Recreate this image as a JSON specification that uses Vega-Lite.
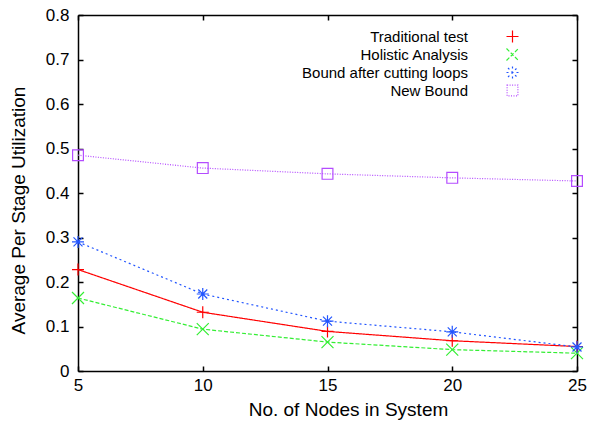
{
  "$schema": "https://vega.github.io/schema/vega-lite/v6.json",
  "width": 499,
  "height": 356,
  "autosize": {"type": "none"},
  "padding": {"left": 78, "top": 15, "right": 13, "bottom": 50},
  "background": "white",
  "config": {
    "view": {"stroke": null},
    "font": "Liberation Sans",
    "axis": {
      "grid": false,
      "domainColor": "black",
      "domainWidth": 1.5,
      "tickColor": "black",
      "tickWidth": 1.5,
      "tickSize": -5,
      "labelFlush": false,
      "labelFont": "Liberation Sans",
      "labelFontSize": 17,
      "labelColor": "black",
      "titleFont": "Liberation Sans",
      "titleFontSize": 19,
      "titleFontWeight": "normal",
      "titleColor": "black"
    },
    "legend": {
      "title": null, "orient": "none", "legendX": 427, "legendY": 14,
      "labelAlign": "right", "labelOffset": -52, "labelFontSize": 15,
      "labelFont": "Liberation Sans", "labelColor": "black", "labelLimit": 400,
      "rowPadding": 1, "symbolStrokeWidth": 1.2, "symbolSize": 144,
      "symbolFillColor": "transparent"
    }
  },
  "data": {
    "values": [
      {"x": 5, "y": 0.228, "series": "Traditional test"},
      {"x": 10, "y": 0.132, "series": "Traditional test"},
      {"x": 15, "y": 0.089, "series": "Traditional test"},
      {"x": 20, "y": 0.068, "series": "Traditional test"},
      {"x": 25, "y": 0.055, "series": "Traditional test"},
      {"x": 5, "y": 0.164, "series": "Holistic Analysis"},
      {"x": 10, "y": 0.094, "series": "Holistic Analysis"},
      {"x": 15, "y": 0.065, "series": "Holistic Analysis"},
      {"x": 20, "y": 0.048, "series": "Holistic Analysis"},
      {"x": 25, "y": 0.040, "series": "Holistic Analysis"},
      {"x": 5, "y": 0.290, "series": "Bound after cutting loops"},
      {"x": 10, "y": 0.173, "series": "Bound after cutting loops"},
      {"x": 15, "y": 0.112, "series": "Bound after cutting loops"},
      {"x": 20, "y": 0.088, "series": "Bound after cutting loops"},
      {"x": 25, "y": 0.054, "series": "Bound after cutting loops"},
      {"x": 5, "y": 0.485, "series": "New Bound"},
      {"x": 10, "y": 0.456, "series": "New Bound"},
      {"x": 15, "y": 0.443, "series": "New Bound"},
      {"x": 20, "y": 0.434, "series": "New Bound"},
      {"x": 25, "y": 0.427, "series": "New Bound"}
    ]
  },
  "layer": [
    {
      "mark": {"type": "line", "strokeWidth": 1.2},
      "encoding": {
        "x": {
          "field": "x", "type": "quantitative",
          "scale": {"domain": [5, 25], "nice": false, "zero": false},
          "axis": {
            "orient": "bottom",
            "values": [5, 10, 15, 20, 25],
            "labelPadding": 11,
            "title": "No. of Nodes in System",
            "titleX": 270,
            "titleY": 44,
            "titleAlign": "center",
            "titleBaseline": "alphabetic"
          }
        },
        "y": {
          "field": "y", "type": "quantitative",
          "scale": {"domain": [0, 0.8], "nice": false},
          "axis": {
            "orient": "left",
            "values": [0, 0.1, 0.2, 0.3, 0.4, 0.5, 0.6, 0.7, 0.8],
            "labelExpr": "datum.value == 0 ? '0' : format(datum.value, '.1f')",
            "labelPadding": 14,
            "title": "Average Per Stage Utilization",
            "titleX": -60,
            "titleY": 195,
            "titleAngle": -90,
            "titleAlign": "center",
            "titleBaseline": "middle"
          }
        },
        "color": {
          "field": "series", "type": "nominal",
          "scale": {
            "domain": ["Traditional test", "Holistic Analysis", "Bound after cutting loops", "New Bound"],
            "range": ["#ff0000", "#33ee33", "#2255ff", "#b44cff"]
          }
        },
        "strokeDash": {
          "field": "series", "type": "nominal",
          "scale": {
            "domain": ["Traditional test", "Holistic Analysis", "Bound after cutting loops", "New Bound"],
            "range": [[1, 0], [4, 2], [2, 3], [1, 1.5]]
          }
        }
      }
    },
    {
      "mark": {"type": "point", "filled": false, "size": 144, "strokeWidth": 1.2, "opacity": 1},
      "encoding": {
        "x": {
          "field": "x", "type": "quantitative",
          "scale": {"domain": [5, 25], "nice": false, "zero": false},
          "axis": {"orient": "top", "values": [5, 10, 15, 20, 25], "labels": false, "title": null}
        },
        "y": {
          "field": "y", "type": "quantitative",
          "scale": {"domain": [0, 0.8], "nice": false},
          "axis": {"orient": "right", "values": [0, 0.1, 0.2, 0.3, 0.4, 0.5, 0.6, 0.7, 0.8], "labels": false, "title": null}
        },
        "color": {
          "field": "series", "type": "nominal",
          "scale": {
            "domain": ["Traditional test", "Holistic Analysis", "Bound after cutting loops", "New Bound"],
            "range": ["#ff0000", "#33ee33", "#2255ff", "#b44cff"]
          }
        },
        "shape": {
          "field": "series", "type": "nominal",
          "scale": {
            "domain": ["Traditional test", "Holistic Analysis", "Bound after cutting loops", "New Bound"],
            "range": ["M-1,0H1M0,-1V1", "M-1,-1L1,1M-1,1L1,-1", "M-1,0H1M0,-1V1M-0.75,-0.75L0.75,0.75M-0.75,0.75L0.75,-0.75", "M-0.9,-0.9H0.9V0.9H-0.9Z"]
          }
        }
      }
    }
  ],
  "resolve": {"axis": {"x": "independent", "y": "independent"}}
}
